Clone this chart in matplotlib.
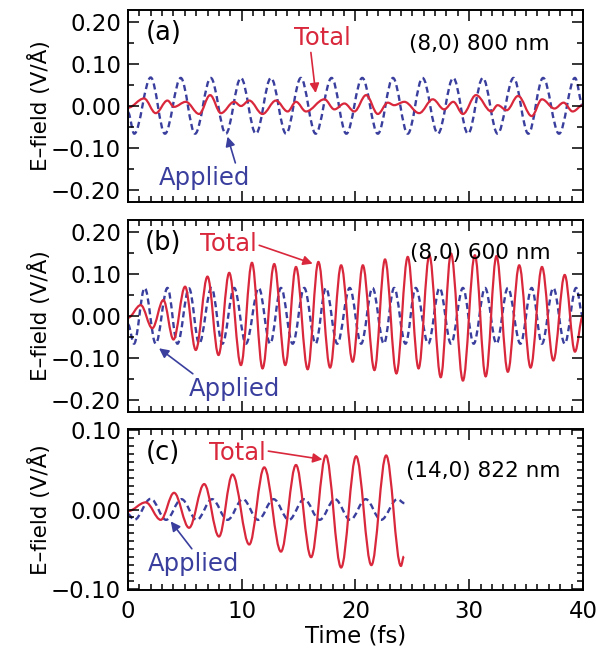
import matplotlib
matplotlib.use("Agg")
import matplotlib.pyplot as plt
from matplotlib.path import Path
from matplotlib.patches import PathPatch
from matplotlib.ticker import MultipleLocator, FuncFormatter

# extrema (time in fs, field in V/A)
# panel (a) (8,0) 800 nm
a_app_t = [0, 0.55, 2.0, 3.25, 4.64, 5.9, 7.28, 8.6, 9.93, 11.25, 12.57, 13.9, 15.2, 16.5,
           17.9, 19.2, 20.6, 21.97, 23.3, 24.6, 25.9, 27.25, 28.6, 29.9, 31.2, 32.5, 33.9,
           35.2, 36.5, 37.9, 39.3, 40.0]
a_app_v = [-0.015, -0.066, 0.068, -0.066, 0.067, -0.066, 0.067, -0.066, 0.067, -0.066, 0.067,
           -0.066, 0.067, -0.066, 0.067, -0.066, 0.067, -0.066, 0.067, -0.066, 0.067, -0.066,
           0.067, -0.066, 0.067, -0.066, 0.067, -0.066, 0.067, -0.066, 0.067, 0.0]
a_tot_t = [0, 1.41, 2.44, 3.47, 4.05, 5.08, 6.26, 7.22, 8.17, 9.34, 9.93, 10.66, 11.83, 13.01,
           14.04, 14.77, 15.65, 17.27, 18.15, 19.03, 19.9, 20.94, 21.97, 22.85, 23.4, 24.3,
           25.6, 26.8, 27.8, 28.6, 29.45, 30.6, 31.95, 32.5, 33.3, 34.3, 35.5, 36.4, 37.5,
           38.3, 39.1, 40.0]
a_tot_v = [-0.004, 0.018, -0.017, 0.013, -0.002, 0.010, -0.019, 0.026, -0.017, 0.010, 0.0,
           0.013, -0.019, 0.013, -0.013, 0.010, -0.013, 0.016, -0.008, 0.006, -0.013, 0.026,
           -0.019, 0.008, 0.002, 0.010, -0.017, 0.016, -0.008, 0.010, -0.019, 0.026, -0.013,
           0.002, -0.010, 0.024, -0.024, 0.016, -0.006, 0.008, -0.013, 0.002]

# panel (b) (8,0) 600 nm
b_app_t = [0, 0.53, 1.47, 2.44, 3.47, 4.35, 5.37, 6.26, 7.34, 8.3, 9.34, 10.37, 11.5, 12.5,
           13.45, 14.48, 15.5, 16.5, 17.4, 18.4, 19.5, 20.5, 21.5, 22.5, 23.4, 24.4, 25.3,
           26.4, 27.4, 28.4, 29.45, 30.4, 31.4, 32.4, 33.4, 34.5, 35.5, 36.4, 37.4, 38.4,
           39.4, 40.0]
b_app_v = [-0.02, -0.066, 0.067, -0.066, 0.067, -0.066, 0.066, -0.066, 0.067, -0.066, 0.067,
           -0.066, 0.067, -0.066, 0.067, -0.066, 0.067, -0.066, 0.067, -0.066, 0.067, -0.066,
           0.067, -0.066, 0.067, -0.066, 0.067, -0.066, 0.067, -0.066, 0.067, -0.066, 0.067,
           -0.066, 0.067, -0.066, 0.067, -0.066, 0.067, -0.066, 0.067, 0.0]
b_tot_t = [0, 1.12, 2.14, 3.11, 4.0, 5.02, 5.96, 6.99, 7.96, 8.9, 9.93, 10.9, 11.83, 12.86,
           13.83, 14.77, 15.8, 16.74, 17.77, 18.74, 19.76, 20.65, 21.67, 22.6, 23.6, 24.6,
           25.55, 26.5, 27.5, 28.4, 29.45, 30.5, 31.45, 32.4, 33.4, 34.4, 35.4, 36.4, 37.4,
           38.4, 39.3, 40.0]
b_tot_v = [-0.004, 0.026, -0.029, 0.038, -0.056, 0.070, -0.081, 0.094, -0.093, 0.103, -0.117,
           0.127, -0.125, 0.124, -0.117, 0.117, -0.127, 0.129, -0.123, 0.121, -0.109, 0.121,
           -0.129, 0.135, -0.137, 0.141, -0.125, 0.145, -0.146, 0.149, -0.154, 0.145, -0.144,
           0.143, -0.133, 0.121, -0.123, 0.117, -0.106, 0.098, -0.085, 0.0]

# panel (c) (14,0) 822 nm
c_app_t = [0, 0.55, 2.0, 3.35, 4.7, 6.05, 7.4, 8.75, 10.1, 11.45, 12.8, 14.15, 15.5, 16.85,
           18.2, 19.55, 20.9, 22.25, 23.7, 24.3]
c_app_v = [-0.006, -0.013, 0.0135, -0.013, 0.013, -0.013, 0.013, -0.013, 0.013, -0.013, 0.013,
           -0.013, 0.013, -0.013, 0.013, -0.013, 0.013, -0.013, 0.013, 0.008]
c_tot_t = [0, 1.56, 2.88, 4.05, 5.37, 6.7, 8.0, 9.19, 10.66, 11.98, 13.45, 14.77, 16.1, 17.4,
           18.74, 20.06, 21.4, 22.7, 24.0, 24.26]
c_tot_v = [-0.002, 0.009, -0.013, 0.021, -0.023, 0.032, -0.034, 0.044, -0.044, 0.053, -0.053,
           0.056, -0.060, 0.068, -0.073, 0.067, -0.070, 0.068, -0.071, -0.059]

red = "#d9283c"
blue = "#3a3f9e"


def wave(ax, t, v, **kw):
    # smooth curve through the extrema (bezier with flat tangents at each point)
    verts = [(t[0], v[0])]
    codes = [Path.MOVETO]
    for i in range(len(t) - 1):
        dt = t[i + 1] - t[i]
        verts += [(t[i] + 0.36 * dt, v[i]), (t[i + 1] - 0.36 * dt, v[i + 1]), (t[i + 1], v[i + 1])]
        codes += [Path.CURVE4] * 3
    ax.add_patch(PathPatch(Path(verts, codes), fill=False, **kw))


def fmt(x, pos):
    return ("%.2f" % x).replace("-", "\u2212")


fig = plt.figure(figsize=(5.97, 6.51), dpi=100)
ax_a = fig.add_axes([0.2144, 0.6897, 0.762, 0.2949])
ax_b = fig.add_axes([0.2144, 0.3671, 0.762, 0.2949])
ax_c = fig.add_axes([0.2144, 0.0937, 0.762, 0.2473])

for ax in (ax_a, ax_b, ax_c):
    ax.set_xlim(0, 40)
    ax.xaxis.set_major_locator(MultipleLocator(10))
    ax.xaxis.set_minor_locator(MultipleLocator(1))
    ax.yaxis.set_major_formatter(FuncFormatter(fmt))
    ax.tick_params(which="both", direction="in", top=True, right=True, labelsize=16.5, width=1.1)
    ax.tick_params(which="major", length=8, pad=5)
    ax.tick_params(which="minor", length=4.5)
    for s in ax.spines.values():
        s.set_linewidth(1.4)
    ax.set_ylabel("E\u2013field (V/\u00c5)", fontsize=15.5)
    ax.yaxis.set_label_coords(-0.17, 0.5)

for ax in (ax_a, ax_b):
    ax.set_ylim(-0.229, 0.229)
    ax.yaxis.set_major_locator(MultipleLocator(0.1))
    ax.yaxis.set_minor_locator(MultipleLocator(0.05))
    ax.tick_params(labelbottom=False)

ax_c.set_ylim(-0.1013, 0.1013)
ax_c.yaxis.set_major_locator(MultipleLocator(0.1))
ax_c.yaxis.set_minor_locator(MultipleLocator(0.01))
ax_c.tick_params(axis="x", pad=7)
ax_c.set_xlabel("Time (fs)", fontsize=16.5, labelpad=1)

dash = (0, (2.6, 1.6))
wave(ax_a, a_app_t, a_app_v, edgecolor=blue, lw=1.7, linestyle=dash)
wave(ax_a, a_tot_t, a_tot_v, edgecolor=red, lw=1.6)
wave(ax_b, b_app_t, b_app_v, edgecolor=blue, lw=1.7, linestyle=dash)
wave(ax_b, b_tot_t, b_tot_v, edgecolor=red, lw=1.6)
wave(ax_c, c_app_t, c_app_v, edgecolor=blue, lw=1.7, linestyle=dash)
wave(ax_c, c_tot_t, c_tot_v, edgecolor=red, lw=1.6)

# panel letters and labels
for ax, lab, y in ((ax_a, "(a)", 0.174), (ax_b, "(b)", 0.174), (ax_c, "(c)", 0.071)):
    ax.text(3.1, y, lab, fontsize=18.5, ha="center", va="center")
ax_a.text(30.9, 0.148, "(8,0) 800 nm", fontsize=15.5, ha="center", va="center")
ax_b.text(31.0, 0.150, "(8,0) 600 nm", fontsize=15.5, ha="center", va="center")
ax_c.text(31.2, 0.048, "(14,0) 822 nm", fontsize=15.5, ha="center", va="center")

def arrow(ax, txt, tip, pos, col, rel):
    ax.annotate(txt, xy=tip, xytext=pos, fontsize=17.5, color=col, ha="center", va="center",
                arrowprops=dict(arrowstyle="-|>", color=col, lw=1.2, mutation_scale=14,
                                shrinkA=0, shrinkB=0, relpos=rel))

arrow(ax_a, "Total", (16.5, 0.031), (17.05, 0.163), red, (0.3, 0.0))
arrow(ax_a, "Applied", (8.75, -0.073), (6.7, -0.171), blue, (0.85, 1.0))
arrow(ax_b, "Total", (16.24, 0.125), (8.8, 0.171), red, (1.0, 0.5))
arrow(ax_b, "Applied", (2.73, -0.077), (9.4, -0.173), blue, (0.08, 1.0))
arrow(ax_c, "Total", (17.1, 0.063), (9.6, 0.071), red, (1.0, 0.6))
arrow(ax_c, "Applied", (3.76, -0.015), (5.8, -0.068), blue, (0.5, 1.0))

fig.savefig("out.png", dpi=100)
